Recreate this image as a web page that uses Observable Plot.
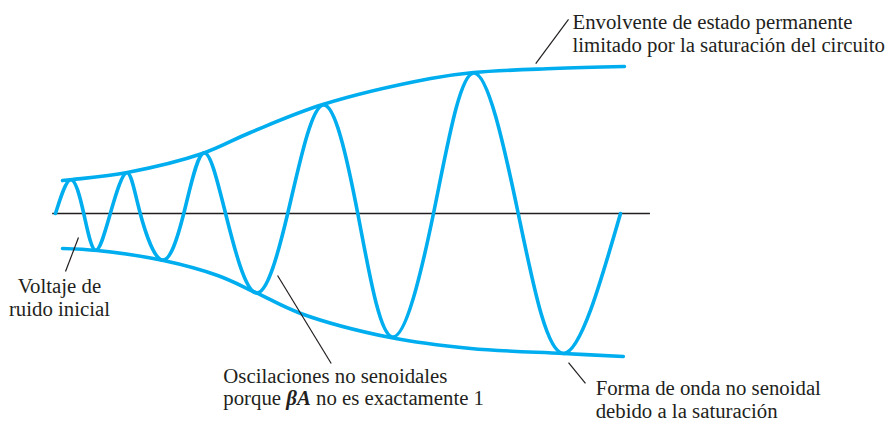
<!DOCTYPE html>
<html>
<head>
<meta charset="utf-8">
<script src="https://cdn.jsdelivr.net/npm/d3@7"></script>
<script src="https://cdn.jsdelivr.net/npm/@observablehq/plot@0.6"></script>
<style>
  html, body { margin: 0; padding: 0; background: #ffffff; }
  #chart svg { display: block; }
</style>
</head>
<body>
<div id="chart"></div>
<script>
// Oscillation build-up: time (arbitrary units) and voltage (arbitrary units)
const waveT = [0, 2.7, 5.0, 7.1, 9.7, 12.6, 15.0, 18.9, 22.7, 26.2, 30.1, 35.4, 41.1, 47.3, 53.5, 59.6, 66.9, 74.0, 81.9, 89.9, 100];
const waveV = [0, 2.3, 0, -2.5, 0, 2.77, 0, -3.17, 0, 4.12, 0, -5.4, 0, 7.38, 0, -8.4, 0, 9.56, 0, -9.52, 0];

const envTopT = [1.24, 3.0, 12.7, 26.0, 34.5, 47.3, 66.4, 74.0, 88.1, 100.7];
const envTopV = [2.24, 2.31, 2.79, 4.08, 5.51, 7.41, 9.18, 9.59, 9.86, 10.0];

const envBotT = [1.24, 7.4, 19.1, 28.7, 35.4, 43.4, 59.3, 73.5, 89.9, 100.5];
const envBotV = [-2.38, -2.52, -3.2, -4.22, -5.37, -6.8, -8.44, -9.18, -9.52, -9.73];

// Zero (time) axis extent
const axisT = [-0.5, 105.3];

// Annotations
const labels = [
  "Envolvente de estado permanente\nlimitado por la saturación del circuito",
  "Voltaje de\nruido inicial",
  "Oscilaciones no senoidales\nporque βA no es exactamente 1",
  "Forma de onda no senoidal\ndebido a la saturación"
];
const labelT = [91.5, 0.7, 29.7, 95.6];
const labelV = [11.02, -6.94, -13.06, -13.88];
const labelAnchor = ["start", "middle", "start", "start"];

// Leader lines (from curve to label)
const leaderT1 = [85.0, 1.77, 39.3, 90.8];
const leaderV1 = [10.2, -3.95, -4.22, -10.14];
const leaderT2 = [90.8, 4.07, 48.8, 93.8];
const leaderV2 = [13.2, -1.63, -10.2, -11.56];

const blue = "#00aeef";
const ink = "#231f20";

const wave = waveT.map((t, i) => ({t, v: waveV[i]}));
const envTop = envTopT.map((t, i) => ({t, v: envTopV[i]}));
const envBot = envBotT.map((t, i) => ({t, v: envBotV[i]}));
const ann = labels.map((label, i) => ({label, t: labelT[i], v: labelV[i], anchor: labelAnchor[i]}));
const leaders = leaderT1.map((t1, i) => ({t1, v1: leaderV1[i], t2: leaderT2[i], v2: leaderV2[i]}));

const chart = Plot.plot({
  width: 888,
  height: 423,
  margin: 0,
  style: {background: "#ffffff"},
  x: {domain: [-55 / 5.65, (888 - 55) / 5.65], axis: null},
  y: {domain: [(213 - 423) / 14.7, 213 / 14.7], axis: null},
  marks: [
    Plot.ruleY([0], {x1: axisT[0], x2: axisT[1], stroke: ink, strokeWidth: 1.5}),
    Plot.line(envTop, {x: "t", y: "v", curve: "catmull-rom", stroke: blue, strokeWidth: 3.6}),
    Plot.line(envBot, {x: "t", y: "v", curve: "catmull-rom", stroke: blue, strokeWidth: 3.6}),
    Plot.line(wave, {x: "t", y: "v", curve: "natural", stroke: blue, strokeWidth: 3.6}),
    Plot.link(leaders, {x1: "t1", y1: "v1", x2: "t2", y2: "v2", stroke: ink, strokeWidth: 1.2}),
    ...["start", "middle"].map(a => Plot.text(ann.filter(d => d.anchor === a), {
      x: "t", y: "v", text: "label", textAnchor: a, lineAnchor: "bottom",
      lineHeight: 1.07, fontSize: 20.8, fontFamily: "Liberation Serif", fill: ink
    }))
  ]
});

// Italicise the product βA in the label
chart.querySelectorAll("tspan, text").forEach(el => {
  if (el.children.length === 0 && el.textContent.includes("βA")) {
    const parts = el.textContent.split("βA");
    el.textContent = "";
    el.append(document.createTextNode(parts[0]));
    const it = document.createElementNS("http://www.w3.org/2000/svg", "tspan");
    it.setAttribute("font-style", "italic");
    it.setAttribute("font-weight", "bold");
    it.textContent = "βA";
    el.append(it);
    el.append(document.createTextNode(parts[1]));
  }
});

document.getElementById("chart").append(chart);
</script>
</body>
</html>
